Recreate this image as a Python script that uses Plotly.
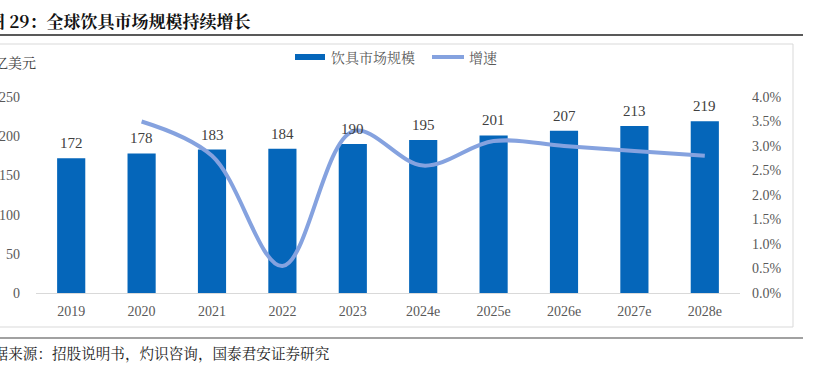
import plotly.graph_objects as go

categories = ["2019", "2020", "2021", "2022", "2023", "2024e", "2025e", "2026e", "2027e", "2028e"]
market_size = [172, 178, 183, 184, 190, 195, 201, 207, 213, 219]
growth_years = ["2020", "2021", "2022", "2023", "2024e", "2025e", "2026e", "2027e", "2028e"]
growth_rate = [0.035, 0.028, 0.0055, 0.033, 0.026, 0.031, 0.030, 0.029, 0.028]
left_ticks = [0, 50, 100, 150, 200, 250]
right_ticks = [0, 0.005, 0.01, 0.015, 0.02, 0.025, 0.03, 0.035, 0.04]

W, H = 814, 365
L, R, T, B = 36, 740, 97, 293

def px(x):
    return (x - L) / (R - L)

def py(y):
    return (B - y) / (B - T)

serif = "Liberation Serif, Times New Roman, Noto Sans CJK SC, serif"
cjk = "Noto Serif CJK SC, Noto Sans CJK SC, serif"
bar_color = "#0566BA"
line_color = "#85A2DF"

fig = go.Figure()
fig.add_trace(go.Bar(
    x=categories, y=market_size, name="饮具市场规模",
    marker=dict(color=bar_color, line=dict(width=0)),
    width=0.4, showlegend=False, hoverinfo="skip",
))
fig.add_trace(go.Scatter(
    x=growth_years, y=growth_rate, name="增速", yaxis="y2", showlegend=False,
    mode="lines", line=dict(color=line_color, width=4, shape="spline", smoothing=1.0),
    hoverinfo="skip",
))

annotations = [
    dict(text="<b>图 29：全球饮具市场规模持续增长</b>", xref="paper", yref="paper",
         x=px(-14), y=py(20), xanchor="left", yanchor="middle", showarrow=False,
         font=dict(family=cjk, size=17, color="#111111")),
    dict(text="亿美元", xref="paper", yref="paper", x=px(-8), y=py(62),
         xanchor="left", yanchor="middle", showarrow=False,
         font=dict(family=cjk, size=14, color="#404040")),
    dict(text="数据来源：招股说明书，灼识咨询，国泰君安证券研究", xref="paper", yref="paper",
         x=px(-23), y=py(352), xanchor="left", yanchor="middle", showarrow=False,
         font=dict(family=cjk, size=14.6, color="#222222")),
    dict(text="饮具市场规模", xref="paper", yref="paper", x=px(329), y=py(57),
         xanchor="left", yanchor="middle", showarrow=False,
         font=dict(family=cjk, size=14, color="#595959")),
    dict(text="增速", xref="paper", yref="paper", x=px(467), y=py(57),
         xanchor="left", yanchor="middle", showarrow=False,
         font=dict(family=cjk, size=14, color="#595959")),
]
for i, v in enumerate(market_size):
    annotations.append(dict(text=str(v), x=i, y=v, xref="x", yref="y", yshift=15,
                            xanchor="center", yanchor="middle", showarrow=False,
                            font=dict(family=serif, size=15, color="#404040")))

fig.update_layout(
    width=W, height=H,
    margin=dict(l=L, r=W - R, t=T, b=H - B, pad=0, autoexpand=False),
    plot_bgcolor="white", paper_bgcolor="white",
    showlegend=False,
    bargap=0.6,
    xaxis=dict(type="category", showline=True, linecolor="#D9D9D9", linewidth=1,
               ticks="", tickfont=dict(family=serif, size=14, color="#595959"),
               showgrid=False, range=[-0.5, 9.5], automargin=False, ticklabelstandoff=5),
    yaxis=dict(range=[0, 250], tickvals=left_ticks, showgrid=False, zeroline=False,
               showline=False, ticks="", automargin=False,
               tickfont=dict(family=serif, size=14, color="#595959"), ticklabelstandoff=15),
    yaxis2=dict(range=[0, 0.04], overlaying="y", side="right", tickvals=right_ticks,
                tickformat=".1%", showgrid=False, zeroline=False, showline=False, ticks="",
                automargin=False,
                tickfont=dict(family=serif, size=14, color="#595959"), ticklabelstandoff=11),
    shapes=[
        dict(type="line", xref="paper", yref="paper", x0=px(0), x1=px(803), y0=py(35), y1=py(35),
             line=dict(color="#222222", width=1.5)),
        dict(type="rect", xref="paper", yref="paper", x0=px(-5), x1=px(793), y0=py(44), y1=py(327),
             line=dict(color="#D9D9D9", width=1), layer="below"),
        dict(type="line", xref="paper", yref="paper", x0=px(0), x1=px(803), y0=py(338), y1=py(338),
             line=dict(color="#444444", width=1.2)),
        dict(type="rect", xref="paper", yref="paper", x0=px(295), x1=px(325), y0=py(54), y1=py(60),
             fillcolor=bar_color, line=dict(width=0)),
        dict(type="line", xref="paper", yref="paper", x0=px(432), x1=px(464), y0=py(57), y1=py(57),
             line=dict(color=line_color, width=4)),
    ],
    annotations=annotations,
)

fig.write_html("out.html", config={"displayModeBar": False},
               post_script="document.body.style.margin='0';")
